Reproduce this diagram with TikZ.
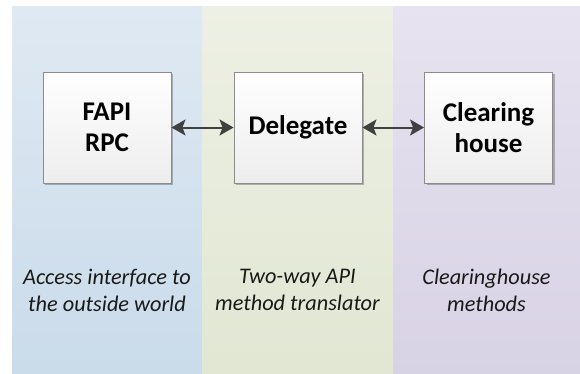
\documentclass[tikz,border=0pt]{standalone}
\usepackage{fontspec}
\setmainfont{Carlito}
\usetikzlibrary{arrows.meta,shadows}
\definecolor{blueT}{HTML}{DFE9F3}
\definecolor{blueB}{HTML}{CADBEA}
\definecolor{greenT}{HTML}{EDF0E4}
\definecolor{greenB}{HTML}{E1E7D3}
\definecolor{purpT}{HTML}{E7E3F0}
\definecolor{purpB}{HTML}{D8D2E5}
\definecolor{boxline}{HTML}{8C8C8C}
\definecolor{arrowcol}{HTML}{404040}
\tikzset{
  box/.style={draw=boxline, line width=0.9pt, top color=white, bottom color=black!7,
    minimum width=128pt, minimum height=111pt, align=center,
    font=\bfseries\fontsize{27}{31.5}\selectfont, inner sep=0pt,
    drop shadow={shadow xshift=2pt, shadow yshift=-2pt, opacity=0.25, fill=black}},
  caption/.style={align=center, font=\itshape\fontsize{22.3}{27}\selectfont, inner sep=0pt, text=black!90},
  arr/.style={draw=arrowcol, line width=2pt,
    {Stealth[length=14pt,width=16pt,inset=3pt]}-{Stealth[length=14pt,width=16pt,inset=3pt]}}
}
\begin{document}
\begin{tikzpicture}[x=1pt,y=1pt]
\useasboundingbox (0,0) rectangle (580,-373);
\shade[top color=blueT, bottom color=blueB] (12,-6) rectangle (202,-373);
\shade[top color=greenT, bottom color=greenB] (202,-6) rectangle (393,-373);
\shade[top color=purpT, bottom color=purpB] (393,-6) rectangle (580,-373);
\node[box] (fapi) at (107,-127.5) {FAPI\\RPC};
\node[box] (del) at (298,-127.5) {Delegate};
\node[box] (clr) at (488.5,-127.5) {Clearing\\house};
\draw[arr] (fapi) -- (del);
\draw[arr] (del) -- (clr);
\node[caption] (c1) at (107,-290) {Access interface to\\the outside world};
\node[caption] (c2) at (297.5,-290) {Two-way API\\method translator};
\node[caption] (c3) at (486.5,-290) {Clearinghouse\\methods};
\end{tikzpicture}
\end{document}
